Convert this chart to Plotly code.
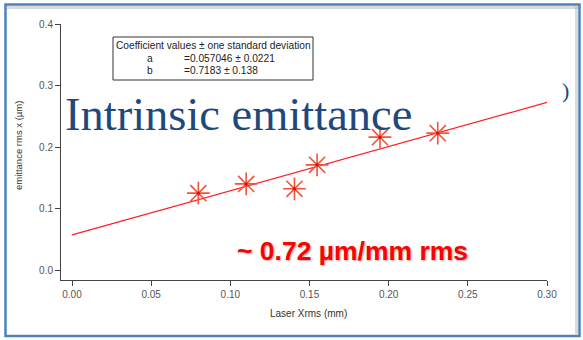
import plotly.graph_objects as go

# ---- data ----
laser_xrms = [0.0798, 0.1100, 0.1405, 0.1548, 0.1945, 0.2310]
emittance = [0.1250, 0.1400, 0.1320, 0.1710, 0.2160, 0.2225]
fit_x = [0.0, 0.30]
fit_y = [0.0570, 0.2725]
x_ticks = [0.00, 0.05, 0.10, 0.15, 0.20, 0.25, 0.30]
y_ticks = [0.0, 0.1, 0.2, 0.3, 0.4]

W, H = 583, 340
L, R, T, B = 61, 547, 24, 280  # plot area in pixels


def px(xp):
    return (xp - L) / (R - L)


def py(yp):
    return (B - yp) / (B - T)


fig = go.Figure()
fig.add_trace(go.Scatter(x=fit_x, y=fit_y, mode="lines",
                         line=dict(color="rgb(255,30,40)", width=1.2),
                         hoverinfo="skip", showlegend=False, cliponaxis=False))
fig.add_trace(go.Scatter(x=laser_xrms, y=emittance, mode="markers",
                         marker=dict(symbol="asterisk-open", size=19,
                                     line=dict(color="rgba(255,70,100,0.65)", width=1.6)),
                         showlegend=False))
fig.add_trace(go.Scatter(x=laser_xrms, y=emittance, mode="markers",
                         marker=dict(symbol="circle", size=3, color="rgb(230,0,20)"),
                         showlegend=False))

axis_common = dict(showline=True, linecolor="#444", linewidth=1, ticks="outside",
                   ticklen=5, tickcolor="#444", showgrid=False, zeroline=False,
                   tickfont=dict(family="Liberation Sans, Arial", size=10, color="#555"))

fig.update_xaxes(range=[-0.00695, 0.30], tickvals=x_ticks, tickformat=".2f", **axis_common)
fig.update_yaxes(range=[-0.01626, 0.40], tickvals=y_ticks, tickformat=".1f", **axis_common)

shapes = [
    # coefficient box
    dict(type="rect", xref="paper", yref="paper", x0=px(113), x1=px(313), y0=py(80), y1=py(37),
         line=dict(color="#333", width=1), fillcolor="white", layer="below"),
    # frame shadow
    dict(type="line", xref="paper", yref="paper", x0=px(7), x1=px(578), y0=py(7.5), y1=py(7.5),
         line=dict(color="rgba(150,150,150,0.35)", width=3)),
    dict(type="line", xref="paper", yref="paper", x0=px(576.5), x1=px(576.5), y0=py(7), y1=py(334),
         line=dict(color="rgba(150,150,150,0.35)", width=3)),
    # blue frame
    dict(type="rect", xref="paper", yref="paper", x0=px(5.5), x1=px(579.5), y0=py(336), y1=py(4.5),
         line=dict(color="#4F81BD", width=2.5)),
]

small = dict(family="Liberation Sans, Arial", size=10.2, color="#222")
annotations = [
    dict(text="Coefficient values ± one standard deviation", x=px(213), y=py(45.5),
         xanchor="center", yanchor="middle", font=small),
    dict(text="a", x=px(150), y=py(58), xanchor="center", yanchor="middle", font=small),
    dict(text="=0.057046 ± 0.0221", x=px(182), y=py(58), xanchor="left", yanchor="middle", font=small),
    dict(text="b", x=px(150), y=py(70.5), xanchor="center", yanchor="middle", font=small),
    dict(text="=0.7183 ± 0.138", x=px(182), y=py(70.5), xanchor="left", yanchor="middle", font=small),
    dict(text="Laser Xrms (mm)", x=px(308), y=py(313), xanchor="center", yanchor="middle",
         font=dict(family="Liberation Sans, Arial", size=10, color="#333")),
    dict(text="emittance rms x (µm)", x=px(18), y=py(146), xanchor="center", yanchor="middle",
         textangle=-90, font=dict(family="Liberation Sans, Arial", size=9.5, color="#333")),
    dict(text="Intrinsic emittance", x=px(63), y=py(114), xanchor="left", yanchor="middle",
         font=dict(family="Liberation Serif, Times New Roman, serif", size=46.5, color="#1F497D")),
    dict(text=")", x=px(565), y=py(90), xanchor="center", yanchor="middle",
         font=dict(family="Liberation Serif, serif", size=22, color="#1F497D")),
    dict(text="~ 0.72 µm/mm rms", x=px(352.5), y=py(251), xanchor="center", yanchor="middle",
         font=dict(family="Liberation Sans, Arial", size=26.5, color="rgb(255,0,0)", weight="bold",
                   shadow="1px 1px 2px rgba(0,0,0,0.35)")),
]
for a in annotations:
    a.update(xref="paper", yref="paper", showarrow=False)

fig.update_layout(width=W, height=H, margin=dict(l=L, r=W - R, t=T, b=H - B),
                  paper_bgcolor="white", plot_bgcolor="white",
                  shapes=shapes, annotations=annotations)

fig.write_html("out.html")
